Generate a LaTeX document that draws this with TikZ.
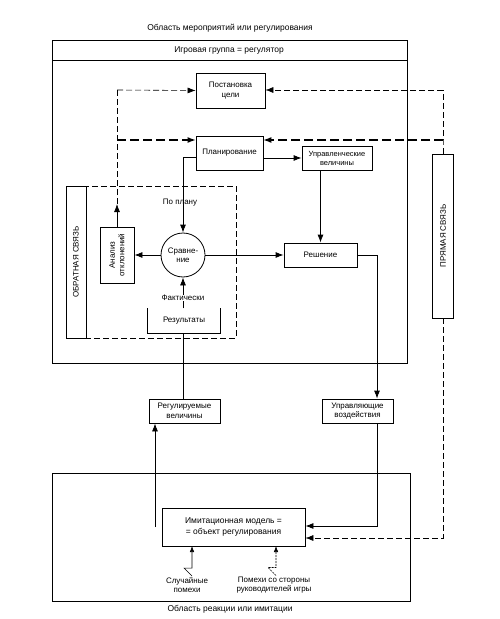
\documentclass[tikz,border=0pt]{standalone}
\usepackage{fontspec}
\setmainfont{Liberation Sans}
\usetikzlibrary{arrows.meta,positioning}
\begin{document}
\begin{tikzpicture}[x=1bp,y=-1bp,
  every node/.style={font=\fontsize{8}{9.5}\selectfont, align=center, inner sep=0pt},
  ln/.style={line width=0.8bp},
  tip/.style={-{Latex[length=8bp,width=6bp]}},
  arr/.style={line width=0.8bp, tip},
  dsh/.style={line width=0.6bp, dash pattern=on 6bp off 3bp},
  tdsh/.style={line width=1.2bp, dash pattern=on 9bp off 4bp},
  area/.style={font=\fontsize{8.5}{10}\selectfont}
]
\useasboundingbox (0,0) rectangle (500,619);
% areas
\node[area] (t1) at (230,28) {Область мероприятий или регулирования};
\draw[ln] (52,40) rectangle (407,363);
\draw[ln] (52,60) -- (407,60);
\node[area] (t2) at (229,50) {Игровая группа = регулятор};
\draw[ln] (52,473) rectangle (410,601);
\node[area] (t3) at (230,609) {Область реакции или имитации};
% dashed inner box
\draw[ln, dash pattern=on 6bp off 3bp] (66,186) rectangle (236,338);
% nodes
\node[draw, ln, minimum width=69bp, minimum height=35bp] (post) at (230.5,90.5) {Постановка\\цели};
\node[draw, ln, minimum width=67bp, minimum height=34bp] (plan) at (229.5,153) {Планирование};
\node[draw, ln, minimum width=70bp, minimum height=24bp, font=\fontsize{7.5}{9}\selectfont] (uprvel) at (337,158) {Управленческие\\величины};
\node[draw, ln, minimum width=152bp, minimum height=20bp, rotate=90] (obr) at (76,262) {ОБРАТНАЯ СВЯЗЬ};
\node[draw, ln, minimum width=56bp, minimum height=34bp, rotate=90] (analiz) at (117,255) {Анализ\\отклонений};
\node[draw, ln, circle, minimum size=44bp] (sravn) at (183,255) {Сравне-\\ние};
\node[draw, ln, minimum width=73bp, minimum height=24bp] (resh) at (320.5,255) {Решение};
\node[minimum width=72bp, minimum height=25bp] (rez) at (184,321) {Результаты};
\draw[ln] (rez.north west) -- (rez.south west) -- (rez.south east) -- (rez.north east);
\node (poplanu) at (180,203) {По плану};
\node[draw, ln, minimum width=71bp, minimum height=24bp] (regvel) at (184.5,411) {Регулируемые\\величины};
\node[draw, ln, minimum width=71bp, minimum height=24bp] (uprvoz) at (357.5,411) {Управляющие\\воздействия};
\node[draw, ln, minimum width=164bp, minimum height=21bp, rotate=90] (pryam) at (443,236) {ПРЯМАЯ СВЯЗЬ};
\node[draw, ln, minimum width=143bp, minimum height=38bp, font=\fontsize{8.5}{11}\selectfont] (imit) at (233.5,527) {Имитационная модель =\\= объект регулирования};
\node (slp) at (187,585) {Случайные\\помехи};
\node (pomr) at (274,585) {Помехи со стороны\\руководителей игры};
% coordinates
\coordinate (a0) at (117,204);
\coordinate (a1) at (117,90);
\coordinate (a2) at (117,140);
\coordinate (r1) at (443,90);
\coordinate (r2) at (443,140);
\coordinate (p1) at (183,157);
\coordinate (s1) at (377,255);
\coordinate (u1) at (377,526);
\coordinate (d1) at (443,538);
\coordinate (i0) at (155,527);
% feedback connectors
\draw[arr] (analiz.east) -- (a0);
\draw[dsh] (a0) -- (a1);
\draw[dsh, tip] (a1) -- (post.west);
\draw[tdsh, tip] (a2) -- (a2 -| plan.west);
% forward connectors
\draw[dsh] (pryam.east) -- (r2) -- (r1);
\draw[dsh, tip] (r1) -- (r1 -| post.east);
\draw[tdsh, tip] (r2) -- (r2 -| plan.east);
% main flow
\draw[arr] (p1 -| plan.west) -- (p1) -- (sravn.north);
\draw[arr] (plan.east |- uprvel.west) -- (uprvel.west);
\draw[arr] (resh.north |- uprvel.south) -- (resh.north);
\draw[arr] (sravn.west) -- (analiz.south);
\draw[arr] (sravn.east) -- (resh.west);
\draw[arr] (rez.north -| sravn.south) -- (sravn.south);
\node[fill=white, inner sep=0.5bp] (fakt) at (183,298) {Фактически};
\draw[ln] (rez.south -| sravn.south) -- (regvel.north -| sravn.south);
\draw[arr] (resh.east) -- (s1) -- (s1 |- uprvoz.north);
\draw[arr] (s1 |- uprvoz.south) -- (u1) -- (u1 -| imit.east);
\draw[dsh, tip] (pryam.west) -- (d1) -- (d1 -| imit.east);
\draw[arr] (i0) -- (i0 |- regvel.south);
% disturbances
\draw[line width=0.6bp, -{Latex[length=6bp,width=4.5bp]}] (slp.north) ++(5,-1) -- ++(-8,-8) -- ++(8,0) -- (192,546);
\draw[line width=0.6bp, dash pattern=on 2bp off 1bp, -{Latex[length=6bp,width=4.5bp]}] (pomr.north) ++(2,-1) -- ++(-8,-8) -- ++(8,0) -- (276,546);
\end{tikzpicture}
\end{document}
